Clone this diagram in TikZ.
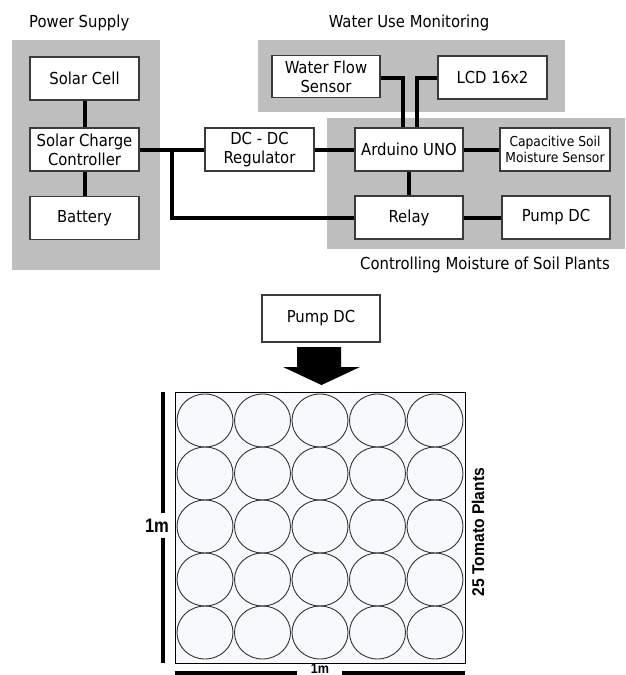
\documentclass[tikz,border=0pt]{standalone}
\usepackage{fontspec}
\setmainfont{DejaVu Sans Condensed}
\newfontfamily\narrowbold{Liberation Sans}
\newcommand\mainsz{\fontsize{16.5}{19}\selectfont}
\newcommand\smallsz{\fontsize{13.7}{16.5}\selectfont}
\definecolor{grpc}{HTML}{BEBEBE}
\definecolor{boxline}{HTML}{3A3A3A}
\definecolor{fieldc}{HTML}{F7F9FC}
\begin{document}
\begin{tikzpicture}[x=1pt,y=-1pt,
  grp/.style={fill=grpc,draw=none},
  blk/.style={draw=boxline,line width=1.1pt,fill=white,minimum width=109pt,minimum height=43pt,inner sep=1pt,align=center,font=\mainsz},
  wire/.style={line width=4pt,black},
  ttl/.style={font=\mainsz,inner sep=0pt},
  plant/.style={draw=black!80,line width=0.9pt},
  dimlbl/.style={inner sep=0pt,font=\narrowbold\bfseries\fontsize{19.5}{20}\selectfont}]
\useasboundingbox (0,0) rectangle (625,675);
% group backgrounds
\fill[grp] (12,40) rectangle (160,270);
\fill[grp] (258,40) rectangle (565,112);
\fill[grp] (327,118) rectangle (625,249);
% titles
\node[ttl,anchor=west] (tps) at (29,23) {Power Supply};
\node[ttl] (twu) at (409,23) {Water Use Monitoring};
\node[ttl] (tcm) at (485,265) {Controlling Moisture of Soil Plants};
% blocks
\node[blk] (solar) at (84.5,78.5) {Solar Cell};
\node[blk] (scc) at (84.5,149.5) {Solar Charge\\Controller};
\node[blk] (bat) at (84.5,218) {Battery};
\node[blk] (dcdc) at (259.5,149.5) {DC - DC\\Regulator};
\node[blk,minimum width=108pt,minimum height=42pt] (wfs) at (326,76.5) {Water Flow\\Sensor};
\node[blk] (lcd) at (492.5,77.5) {LCD 16x2};
\node[blk,minimum width=108pt] (ard) at (409,149.5) {Arduino UNO};
\node[blk,minimum width=110pt,font=\smallsz] (cap) at (555,149.5) {Capacitive Soil\\Moisture Sensor};
\node[blk,minimum width=108pt] (relay) at (409,217.5) {Relay};
\node[blk,minimum width=108pt] (pump) at (556,217.5) {Pump DC};
% wires
\coordinate (br) at (172,149.5);
\draw[wire] (solar.south) -- (scc.north);
\draw[wire] (scc.south) -- (bat.north);
\draw[wire] (scc.east) -- (dcdc.west);
\draw[wire] (br) |- (relay.west);
\draw[wire] (dcdc.east) -- (ard.west);
\draw[wire] (ard.east) -- (cap.west);
\draw[wire] (ard.south) -- (relay.north);
\draw[wire] (relay.east) -- (pump.west);
\draw[wire] ([yshift=-1.5pt]wfs.east) -| ([xshift=-6pt]ard.north);
\draw[wire] (lcd.west) -| ([xshift=8pt]ard.north);
% lower part
\node[blk,minimum width=118pt,minimum height=47pt] (pump2) at (321,318.5) {Pump DC};
\fill[black] (297,347) -- (341,347) -- (341,367) -- (360,367) -- (321.5,385) -- (283,367) -- (297,367) -- cycle;
\node[draw=black,line width=0.9pt,fill=fieldc,minimum width=290pt,minimum height=271pt,inner sep=0pt] (field) at (320,527.5) {};
\foreach \i in {0,...,4}{
  \foreach \j in {0,...,4}{
    \draw[plant] (205+57.5*\i,420.5+53*\j) ellipse [x radius=28pt,y radius=26.5pt];
  }
}
% dimensions
\node[dimlbl] (lm) at (157,526) {\scalebox{0.85}[1]{1m}};
\node[inner sep=0pt,anchor=south,font=\narrowbold\bfseries\fontsize{14}{15}\selectfont] (bm) at (320,673.8) {\scalebox{0.9}[1]{1m}};
\coordinate (l1) at (163,392);
\coordinate (l2) at (163,513);
\coordinate (l3) at (163,538);
\coordinate (l4) at (163,663);
\draw[line width=4pt] (l1) -- (l2);
\draw[line width=4pt] (l3) -- (l4);
\coordinate (b1) at (175,672.5);
\coordinate (b2) at (297,672.5);
\coordinate (b3) at (342,672.5);
\coordinate (b4) at (465,672.5);
\draw[line width=4pt] (b1) -- (b2);
\draw[line width=4pt] (b3) -- (b4);
\node[inner sep=0pt,rotate=90,font=\narrowbold\bfseries\fontsize{17}{18}\selectfont] (tp) at (478,532) {\scalebox{0.92}[1]{25 Tomato Plants}};
\end{tikzpicture}
\end{document}
